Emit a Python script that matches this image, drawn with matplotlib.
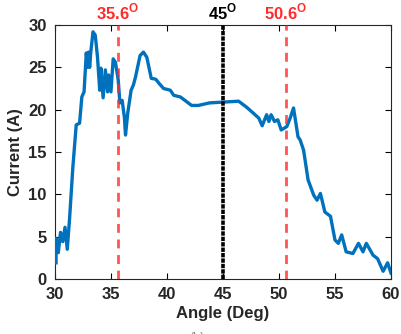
import matplotlib.pyplot as plt

plt.rcParams['font.family'] = ['Liberation Sans', 'DejaVu Sans']
plt.rcParams['mathtext.fontset'] = 'custom'
plt.rcParams['mathtext.rm'] = 'Liberation Sans'
plt.rcParams['mathtext.bf'] = 'Liberation Sans:bold'

# measured current vs angle
angle = [30.1, 30.1, 30.3, 30.5, 30.7, 30.9, 31.1, 31.3, 31.6, 31.9, 32.2, 32.4, 32.6,
         32.8, 32.9, 33.0, 33.1, 33.2, 33.4, 33.6, 33.8, 34.0, 34.1, 34.3, 34.5, 34.7,
         34.8, 35.0, 35.2, 35.4, 35.65, 35.8, 36.0, 36.2, 36.3, 36.5, 36.8, 37.0, 37.2,
         37.6, 37.9, 38.2, 38.6, 39.0, 39.3, 39.7, 40.3, 40.6, 41.2, 42.2, 42.8, 43.8,
         45.1, 46.4, 47.1, 47.7, 48.2, 48.5, 48.9, 49.1, 49.3, 49.6, 49.9, 50.2, 50.7,
         51.0, 51.3, 51.7, 51.9, 52.2, 52.6, 53.1, 53.4, 53.7, 54.1, 54.6, 55.0, 55.3,
         55.6, 56.0, 56.6, 57.1, 57.5, 57.8, 58.4, 58.8, 59.3, 59.7, 60.0]
current = [1.9, 4.8, 3.1, 5.5, 4.4, 6.1, 3.5, 7.0, 13.2, 18.2, 18.4, 21.5, 22.1,
           26.7, 25.0, 26.8, 25.0, 26.8, 29.2, 28.8, 26.2, 22.3, 24.9, 21.4, 24.7, 22.1,
           24.1, 22.1, 26.0, 25.6, 23.5, 20.8, 21.1, 19.1, 17.0, 19.6, 22.3, 22.9, 23.9,
           26.4, 26.8, 26.2, 23.7, 23.6, 23.1, 22.5, 22.3, 21.7, 21.5, 20.5, 20.5, 20.8,
           20.9, 21.0, 20.3, 19.6, 19.0, 18.1, 19.4, 18.6, 19.4, 18.6, 18.8, 17.6, 18.0,
           19.0, 20.2, 16.8, 16.4, 15.2, 11.7, 9.9, 9.3, 10.1, 7.9, 7.4, 4.6, 4.2,
           5.2, 3.2, 3.0, 4.2, 3.2, 4.2, 2.8, 2.4, 0.9, 1.9, 0.7]

marks = [35.6, 45, 50.6]
mark_colors = ['#ff2a2a', 'black', '#ff2a2a']

fig = plt.figure(figsize=(4.01, 3.34), dpi=100)
ax = fig.add_axes([0.137, 0.165, 0.838, 0.76])

ax.plot(angle, current, color='#0072BD', lw=2.4, zorder=3)

for m, c in zip(marks, mark_colors):
    if c == 'black':
        ax.axvline(m, color=c, lw=2.6, ls=(0, (1.2, 0.3)), zorder=4)
    else:
        ax.axvline(m, color=c, lw=2.0, ls=(0, (3.2, 2.4)), alpha=0.8, zorder=4)
    ax.text(m, 30.3, r'$\mathbf{%g}^{\mathbf{O}}$' % m, color=c, fontsize=12,
            ha='center', va='bottom')

ax.set_xlim(30, 60)
ax.set_ylim(0, 30)
ax.set_xticks(range(30, 61, 5))
ax.set_yticks(range(0, 31, 5))
ax.tick_params(direction='in', top=True, right=True, length=4, width=0.8,
               labelsize=12, pad=6)
for lbl in ax.get_xticklabels() + ax.get_yticklabels():
    lbl.set_fontweight('bold')
    lbl.set_color('#262626')
for s in ax.spines.values():
    s.set_linewidth(0.8)
    s.set_color('#262626')

ax.set_xlabel('Angle (Deg)', fontsize=12, fontweight='bold', color='#262626', labelpad=3)
ax.set_ylabel('Current (A)', fontsize=12, fontweight='bold', color='#262626', labelpad=4)

fig.text(0.49, 0.006, '(b)', fontsize=9, color='#888888', ha='center', va='top')

fig.savefig('out.png', dpi=100)
